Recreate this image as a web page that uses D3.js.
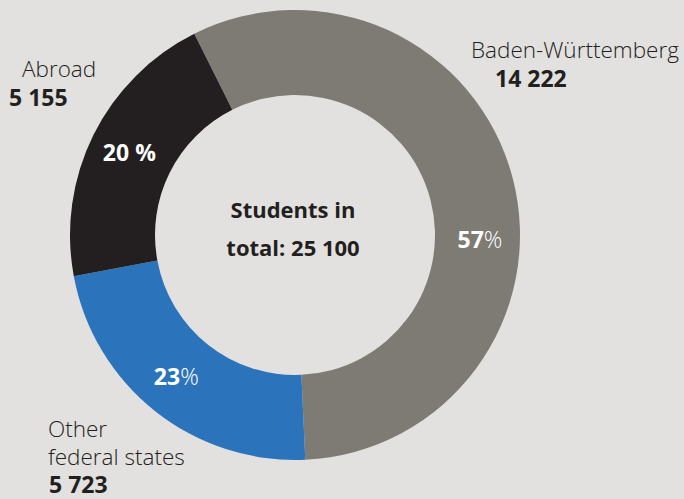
<!DOCTYPE html>
<html>
<head>
<meta charset="utf-8">
<script src="https://cdn.jsdelivr.net/npm/d3@7"></script>
<style>
  html, body { margin: 0; padding: 0; background: #e2e1df; }
  svg { display: block; font-family: "Open Sans", "Noto Sans", sans-serif; }
</style>
</head>
<body>
<div id="chart"></div>
<script>
// data
const regions = ["Baden-Württemberg", "Other federal states", "Abroad"];
const students = [14222, 5723, 5155];
const percents = [57, 23, 20];
const totalLabel = ["Students in", "total: 25 100"];

const width = 684;
const height = 499;
const cx = 295, cy = 235;
const outerR = 225, innerR = 140;

const colors = ["#7e7a74", "#2b74bc", "#231f20"];
const textColor = "#231f20";

// how far the percent labels sit from the slice middle (degrees)
const labelShift = [16, 1.5, 0];
// outer labels: lines of text, anchor x and first baseline
const outerLabels = [
  { lines: ["Baden-Württemberg"], x: 471, y: 58, numX: 495 },
  { lines: ["Other", "federal states"], x: 48, y: 437, numX: 49 },
  { lines: ["Abroad"], x: 22, y: 77, numX: 9 }
];

const fmt = d3.formatLocale({ decimal: ".", thousands: " ", grouping: [3], currency: ["", ""] }).format(",d");

const svg = d3.select("#chart").append("svg")
  .attr("width", width)
  .attr("height", height);

svg.append("rect")
  .attr("width", width)
  .attr("height", height)
  .attr("fill", "#e2e1df");

const pie = d3.pie()
  .sort(null)
  .startAngle(-26.6 * Math.PI / 180)
  .endAngle((360 - 26.6) * Math.PI / 180);

const arcs = pie(students);

const arc = d3.arc().innerRadius(innerR).outerRadius(outerR);

const g = svg.append("g").attr("transform", `translate(${cx},${cy})`);

g.selectAll("path.slice")
  .data(arcs)
  .join("path")
  .attr("class", "slice")
  .attr("d", arc)
  .attr("fill", (d, i) => colors[i]);

// percent labels inside the ring
const labelArc = d3.arc().innerRadius(185).outerRadius(185);
g.selectAll("text.pct")
  .data(arcs)
  .join("text")
  .attr("class", "pct")
  .attr("transform", (d, i) => {
    const shift = labelShift[i] * Math.PI / 180;
    const c = labelArc.centroid({ startAngle: d.startAngle + shift, endAngle: d.endAngle + shift });
    return `translate(${c[0]},${c[1]})`;
  })
  .attr("text-anchor", "middle")
  .attr("dy", "0.35em")
  .attr("fill", "#ffffff")
  .style("font-size", "23px")
  .each(function (d, i) {
    const t = d3.select(this);
    t.append("tspan").attr("font-weight", 700).text(percents[i]);
    if (i === 2) {
      t.append("tspan").attr("font-weight", 700).text(" %");
    } else {
      t.append("tspan").attr("font-weight", 300).text("%");
    }
  });

// total in the middle
g.selectAll("text.total")
  .data(totalLabel)
  .join("text")
  .attr("class", "total")
  .attr("x", -2)
  .attr("y", (d, i) => -17 + i * 38)
  .attr("text-anchor", "middle")
  .attr("fill", textColor)
  .attr("font-weight", 700)
  .style("font-size", "22px")
  .text(d => d);

// outer labels
const outer = svg.selectAll("g.outer")
  .data(outerLabels)
  .join("g")
  .attr("class", "outer");

outer.each(function (o, i) {
  const sel = d3.select(this);
  o.lines.forEach((line, j) => {
    sel.append("text")
      .attr("x", o.x)
      .attr("y", o.y + j * 28)
      .attr("fill", textColor)
      .attr("font-weight", 300)
      .style("font-size", "22.5px")
      .text(line);
  });
  sel.append("text")
    .attr("x", o.numX)
    .attr("y", o.y + o.lines.length * 28 + (o.lines.length === 1 ? 1 : 0))
    .attr("fill", textColor)
    .attr("font-weight", 700)
    .style("font-size", "23px")
    .text(fmt(students[i]));
});
</script>
</body>
</html>
